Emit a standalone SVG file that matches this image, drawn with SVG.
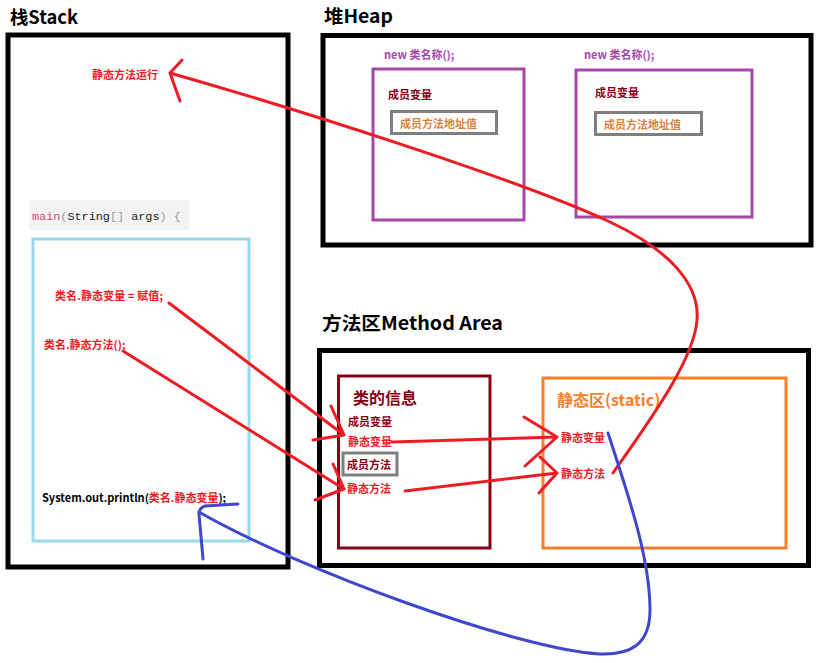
<svg xmlns="http://www.w3.org/2000/svg" width="827" height="663" viewBox="0 0 827 663">
<style>
.t{font-family:"Noto Sans CJK SC","Liberation Sans",sans-serif}
.title{font-size:18.5px;font-weight:bold;fill:#000}
.sm{font-size:11px;font-weight:bold}
.red{fill:#ed1c24}
.dred{fill:#880015}
.purp{fill:#a349a4}
.org{fill:#d9823f}
.blk{fill:#000}
.area{fill:none;stroke:#000;stroke-width:5}
.gbox{fill:none;stroke:#7f7f7f;stroke-width:3}
.pbox{fill:none;stroke:#a349a4;stroke-width:3}
.rl{fill:none;stroke:#ed1c24;stroke-width:3;stroke-linecap:round;stroke-linejoin:round}
.bl{fill:none;stroke:#3f48cc;stroke-width:3;stroke-linecap:round;stroke-linejoin:round}
.mono{font-family:"Liberation Mono","DejaVu Sans Mono",monospace;font-size:11.8px}
</style>
<rect width="827" height="663" fill="#fff"/>

<g id="stack">
<text class="t title" x="10" y="24" textLength="68" lengthAdjust="spacingAndGlyphs">栈Stack</text>
<rect class="area" x="8" y="35" width="280" height="532"/>
<text class="t sm red" x="92" y="79">静态方法运行</text>
<rect x="29" y="200" width="160" height="30" fill="#f3f3f3"/>
<text class="mono" x="32" y="220"><tspan fill="#e2457a">main</tspan><tspan fill="#999">(</tspan><tspan fill="#222">String</tspan><tspan fill="#999">[]</tspan><tspan fill="#222"> args</tspan><tspan fill="#999">) {</tspan></text>
<rect x="33" y="239" width="216" height="302" fill="none" stroke="#99d9ea" stroke-width="3"/>
<text class="t sm red" x="55" y="300" textLength="108">类名.静态变量 = 赋值;</text>
<text class="t sm red" x="44" y="349">类名.静态方法();</text>
<text class="t sm blk" x="42" y="502">System.out.println(<tspan class="red">类名.静态变量</tspan>);</text>
</g>

<g id="heap">
<text class="t title" x="324" y="23" textLength="69" lengthAdjust="spacingAndGlyphs">堆Heap</text>
<rect class="area" x="323" y="35.5" width="488" height="209.5"/>
<g id="obj1">
<text class="t sm purp" x="384" y="59">new 类名称();</text>
<rect class="pbox" x="373" y="69" width="151" height="151"/>
<text class="t sm dred" x="388" y="99">成员变量</text>
<rect class="gbox" x="391.5" y="111.5" width="105" height="22"/>
<text class="t sm org" x="400" y="128">成员方法地址值</text>
</g>
<g id="obj2">
<text class="t sm purp" x="584" y="59">new 类名称();</text>
<rect class="pbox" x="576" y="70" width="176" height="147"/>
<text class="t sm dred" x="595" y="97">成员变量</text>
<rect class="gbox" x="595.5" y="112.5" width="106" height="22"/>
<text class="t sm org" x="604" y="129">成员方法地址值</text>
</g>
</g>

<g id="method-area">
<text class="t title" x="322" y="330" textLength="181" lengthAdjust="spacingAndGlyphs">方法区Method Area</text>
<rect class="area" x="319.5" y="350.5" width="489" height="215"/>
<g id="class-info">
<rect x="338.5" y="376" width="151.5" height="172" fill="none" stroke="#880015" stroke-width="3"/>
<text class="t dred" x="353" y="404" font-size="16" font-weight="bold">类的信息</text>
<text class="t sm dred" x="348" y="426">成员变量</text>
<text class="t sm red" x="348" y="446">静态变量</text>
<rect class="gbox" x="343" y="453" width="54" height="22"/>
<text class="t sm dred" x="347" y="469">成员方法</text>
<text class="t sm red" x="347" y="493">静态方法</text>
</g>
<g id="static-area">
<rect x="543" y="378" width="243" height="170" fill="none" stroke="#ff7f27" stroke-width="3"/>
<text class="t" x="557" y="406" font-size="16" font-weight="bold" fill="#ff7f27">静态区(static)</text>
<text class="t sm red" x="561" y="442">静态变量</text>
<text class="t sm red" x="561" y="478">静态方法</text>
</g>
</g>

<g id="connectors">
<path class="rl" d="M169,303 L344,435 M331,406 L344,435 L313,440"/>
<path class="rl" d="M123,351 L344,489 M333,464 L344,489 L315,500"/>
<path class="rl" d="M392,442 L557,437 M524,417 L557,437 L525,466"/>
<path class="rl" d="M405,491 L557,473 M540,457 L557,473 L539,493"/>
<path class="rl" d="M613,473 C650,420 694,360 697,320 C700,285 670,250 610,222 C520,180 300,110 170,73 M182,60 L170,73 L180,101"/>
<path class="bl" d="M608,433 C630,500 650,560 650,610 C650,645 630,655 600,654 C520,650 300,570 199,512 M238,504 L205,506 Q199,508 199,514 L203,559"/>
</g>
</svg>
